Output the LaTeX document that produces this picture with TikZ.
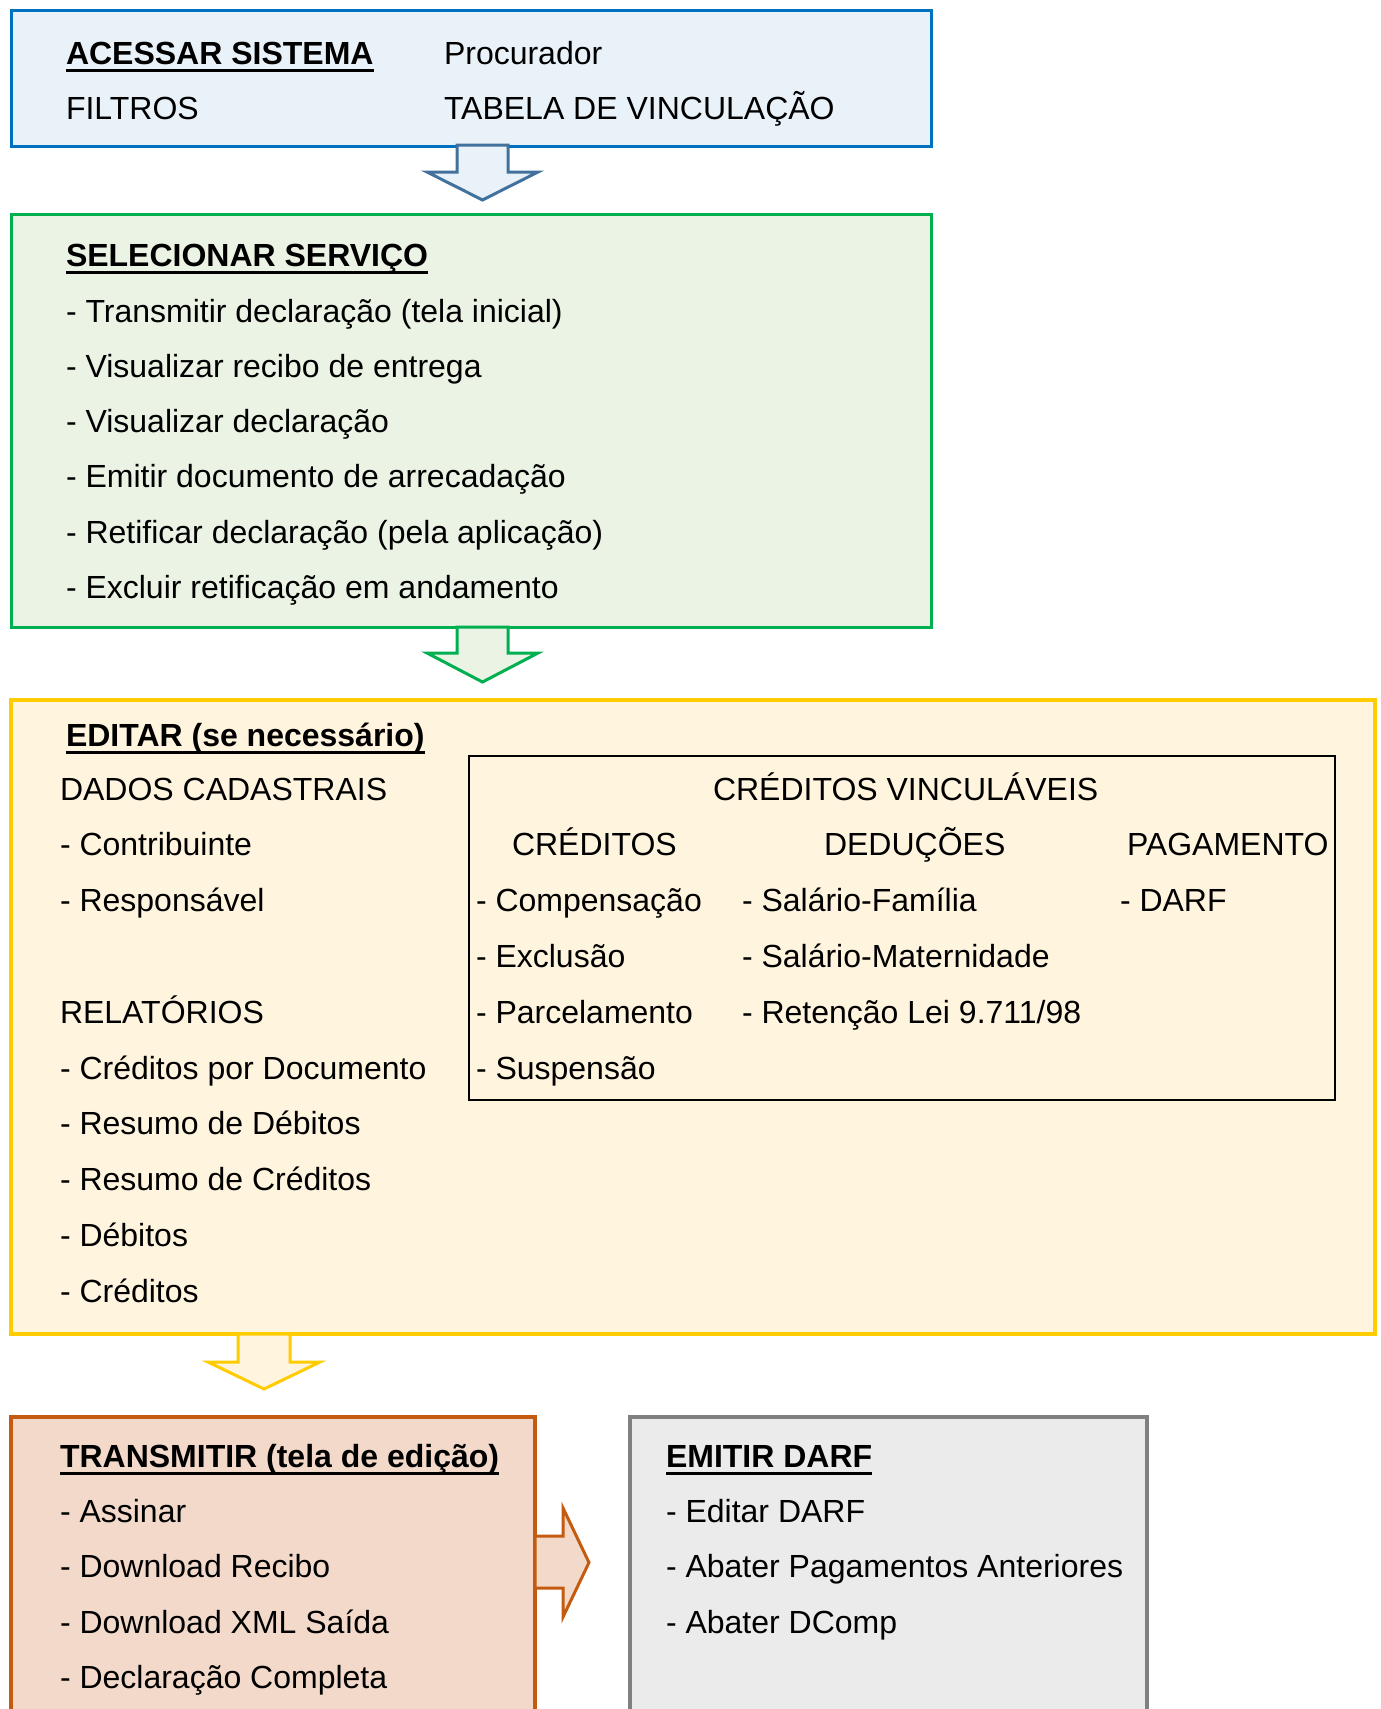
\documentclass[tikz,border=0pt]{standalone}
\usepackage{fontspec}
\setmainfont{Liberation Sans}
\definecolor{bluebd}{HTML}{0070C0}
\definecolor{bluefill}{HTML}{E9F1F9}
\definecolor{bluearrow}{HTML}{41719C}
\definecolor{greenbd}{HTML}{00B050}
\definecolor{greenfill}{HTML}{EBF3E5}
\definecolor{yellowbd}{HTML}{FFCC00}
\definecolor{yellowfill}{HTML}{FFF4DE}
\definecolor{orangebd}{HTML}{C55A11}
\definecolor{orangefill}{HTML}{F2D9C9}
\definecolor{graybd}{HTML}{808080}
\definecolor{grayfill}{HTML}{EBEBEB}
\begin{document}
\begin{tikzpicture}[x=1pt,y=-1pt,
  txt/.style={inner sep=0pt, outer sep=0pt, anchor=base west, font=\fontsize{32}{38}\selectfont},
  head/.style={txt, font=\fontsize{32}{38}\selectfont\bfseries},
  panel/.style={rectangle, inner sep=0pt, outer sep=0pt, anchor=north west},
  blockarrow/.style={line width=3pt, line join=miter},
  uline/.style={line width=3pt, black}]
\useasboundingbox (0,0) rectangle (1381,1709);
\clip (0,0) rectangle (1381,1709);

% panels
\node[panel, draw=bluebd, fill=bluefill, line width=3pt, minimum width=920pt, minimum height=136pt] (acesso) at (11,10) {};
\node[panel, draw=greenbd, fill=greenfill, line width=3pt, minimum width=920pt, minimum height=413pt] (servico) at (11,214) {};
\node[panel, draw=yellowbd, fill=yellowfill, line width=4pt, minimum width=1364pt, minimum height=634pt] (editar) at (11,700) {};
\node[panel, draw=black, line width=2.5pt, minimum width=866pt, minimum height=344pt] (creditos) at (469,756) {};
\node[panel, draw=orangebd, fill=orangefill, line width=3.5pt, minimum width=524pt, minimum height=330pt] (transmitir) at (11,1417) {};
\node[panel, draw=graybd, fill=grayfill, line width=4pt, minimum width=517pt, minimum height=330pt] (darf) at (630,1417) {};

% block arrows
\draw[blockarrow, draw=bluearrow, fill=bluefill] (457,145) -- (508,145) -- (508,172) -- (538,172) -- (482.5,200) -- (427,172) -- (457,172) -- cycle;
\draw[blockarrow, draw=greenbd, fill=greenfill] (457,627) -- (508,627) -- (508,653) -- (538,653) -- (482.5,682) -- (427,653) -- (457,653) -- cycle;
\draw[blockarrow, draw=yellowbd, fill=yellowfill] (238,1334) -- (290,1334) -- (290,1362) -- (320,1362) -- (264,1389) -- (208,1362) -- (238,1362) -- cycle;
\draw[blockarrow, draw=orangebd, fill=orangefill] (535,1536) -- (563,1536) -- (563,1508) -- (589,1562.5) -- (563,1617) -- (563,1588) -- (535,1588) -- cycle;

% ACESSAR
\node[head] (h1) at (66,64) {ACESSAR SISTEMA};
\draw[uline] ([yshift=-6pt]h1.base west) -- ([yshift=-6pt]h1.base east);
\node[txt] (a2) at (444,64) {Procurador};
\node[txt] (a3) at (66,119) {FILTROS};
\node[txt] (a4) at (444,119) {TABELA DE VINCULAÇÃO};

% SELECIONAR
\node[head] (h2) at (66,266) {SELECIONAR SERVIÇO};
\draw[uline] ([yshift=-6pt]h2.base west) -- ([yshift=-6pt]h2.base east);
\node[txt] (s1) at (66,322) {- Transmitir declaração (tela inicial)};
\node[txt] (s2) at (66,377.3) {- Visualizar recibo de entrega};
\node[txt] (s3) at (66,432.6) {- Visualizar declaração};
\node[txt] (s4) at (66,487.9) {- Emitir documento de arrecadação};
\node[txt] (s5) at (66,543.2) {- Retificar declaração (pela aplicação)};
\node[txt] (s6) at (66,598.5) {- Excluir retificação em andamento};

% EDITAR
\node[head] (h3) at (66,746) {EDITAR (se necessário)};
\draw[uline] ([yshift=-6pt]h3.base west) -- ([yshift=-6pt]h3.base east);
\node[txt] (e0) at (60,800) {DADOS CADASTRAIS};
\node[txt] (e1) at (60,855.8) {- Contribuinte};
\node[txt] (e2) at (60,911.6) {- Responsável};
\node[txt] (e4) at (60,1023.2) {RELATÓRIOS};
\node[txt] (e5) at (60,1079) {- Créditos por Documento};
\node[txt] (e6) at (60,1134.8) {- Resumo de Débitos};
\node[txt] (e7) at (60,1190.6) {- Resumo de Créditos};
\node[txt] (e8) at (60,1246.4) {- Débitos};
\node[txt] (e9) at (60,1302.2) {- Créditos};

\node[txt] (c0) at (713,800) {CRÉDITOS VINCULÁVEIS};
\node[txt] (c1a) at (512,855.8) {CRÉDITOS};
\node[txt] (c1b) at (824,855.8) {DEDUÇÕES};
\node[txt] (c1c) at (1127,855.8) {PAGAMENTO};
\node[txt] (c2a) at (476,911.6) {- Compensação};
\node[txt] (c3a) at (476,967.4) {- Exclusão};
\node[txt] (c4a) at (476,1023.2) {- Parcelamento};
\node[txt] (c5a) at (476,1079) {- Suspensão};
\node[txt] (c2b) at (742,911.6) {- Salário-Família};
\node[txt] (c3b) at (742,967.4) {- Salário-Maternidade};
\node[txt] (c4b) at (742,1023.2) {- Retenção Lei 9.711/98};
\node[txt] (c2c) at (1120,911.6) {- DARF};

% TRANSMITIR
\node[head] (h4) at (60,1467) {TRANSMITIR (tela de edição)};
\draw[uline] ([yshift=-6pt]h4.base west) -- ([yshift=-6pt]h4.base east);
\node[txt] (t1) at (60,1522) {- Assinar};
\node[txt] (t2) at (60,1577.5) {- Download Recibo};
\node[txt] (t3) at (60,1633) {- Download XML Saída};
\node[txt] (t4) at (60,1688) {- Declaração Completa};

% EMITIR DARF
\node[head] (h5) at (666,1467) {EMITIR DARF};
\draw[uline] ([yshift=-6pt]h5.base west) -- ([yshift=-6pt]h5.base east);
\node[txt] (d1) at (666,1522) {- Editar DARF};
\node[txt] (d2) at (666,1577.5) {- Abater Pagamentos Anteriores};
\node[txt] (d3) at (666,1633) {- Abater DComp};
\end{tikzpicture}
\end{document}
